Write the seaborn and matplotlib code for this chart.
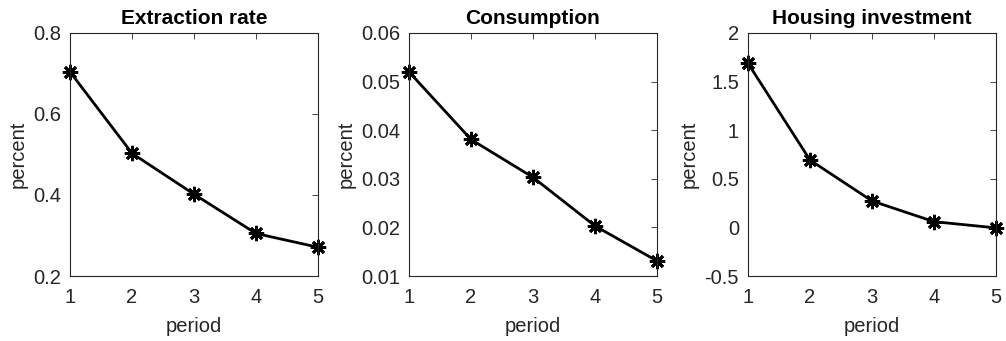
import matplotlib
matplotlib.use("Agg")
import matplotlib.pyplot as plt
import seaborn as sns
import pandas as pd
from matplotlib.ticker import FuncFormatter

periods = [1, 2, 3, 4, 5]
extraction_rate = [0.704, 0.503, 0.402, 0.305, 0.271]
consumption = [0.0520, 0.0381, 0.0303, 0.0203, 0.0131]
housing_investment = [1.688, 0.693, 0.272, 0.059, -0.005]

titles = ["Extraction rate", "Consumption", "Housing investment"]
series = [extraction_rate, consumption, housing_investment]
ylims = [(0.2, 0.8), (0.01, 0.06), (-0.5, 2.0)]
yticks = [[0.2, 0.4, 0.6, 0.8],
          [0.01, 0.02, 0.03, 0.04, 0.05, 0.06],
          [-0.5, 0, 0.5, 1, 1.5, 2]]

sns.set_style("white")
plt.rcParams['font.family'] = ['Liberation Sans', 'DejaVu Sans']

fig = plt.figure(figsize=(10.06, 3.41), dpi=100)
lefts_px = [70, 409, 748]
W, H = 1006, 341
axc = (0.15, 0.15, 0.15)

for i in range(3):
    ax = fig.add_axes([lefts_px[i] / W, 1 - 276 / H, 248 / W, 243 / H])
    df = pd.DataFrame({"period": periods, "value": series[i]})
    sns.lineplot(data=df, x="period", y="value", ax=ax, color="black",
                 linewidth=2, marker=(8, 2, 0), markersize=11,
                 markeredgewidth=2.0, markeredgecolor="black", clip_on=False)
    ax.set_xlim(1, 5)
    ax.set_ylim(*ylims[i])
    ax.set_xticks(periods)
    ax.set_yticks(yticks[i])
    ax.yaxis.set_major_formatter(FuncFormatter(lambda v, p: "%g" % round(v, 4)))
    ax.set_title(titles[i], fontsize=15, fontweight="bold", pad=6.5, color="black")
    ax.set_xlabel("period", fontsize=14.5, color=axc, labelpad=7)
    ax.set_ylabel("percent", fontsize=14.5, color=axc, labelpad=4)
    ax.tick_params(direction="in", length=4, width=0.6, colors=axc,
                   labelsize=14.5, top=True, right=True, labelcolor=axc)
    ax.tick_params(axis="x", pad=8.5)
    ax.tick_params(axis="y", pad=6.5)
    for s in ax.spines.values():
        s.set_color(axc)
        s.set_linewidth(0.8)

fig.savefig("out.png", dpi=100)
